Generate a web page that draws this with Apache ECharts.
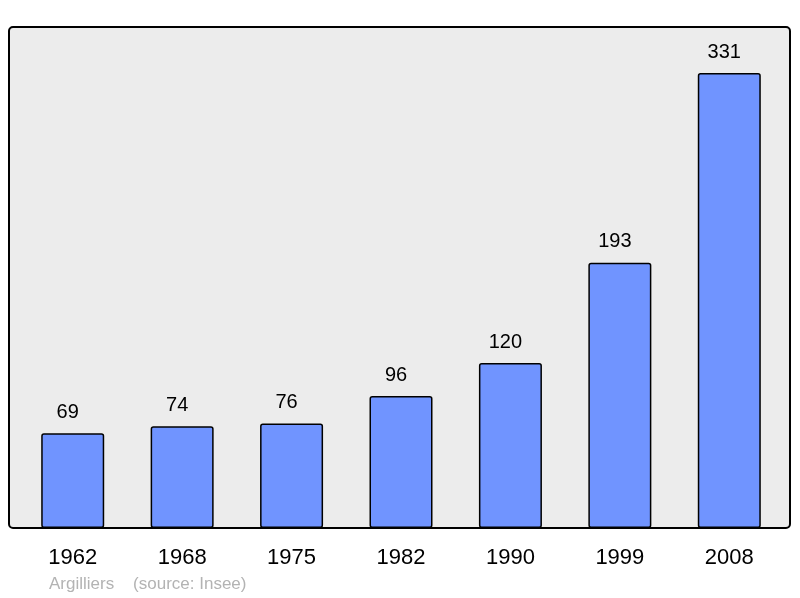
<!DOCTYPE html>
<html>
<head>
<meta charset="utf-8">
<script src="https://cdn.jsdelivr.net/npm/echarts@6/dist/echarts.min.js"></script>
<style>
    html, body { margin: 0; padding: 0; background: #fff; }
    #chart { width: 800px; height: 598px; }
</style>
</head>
<body>
<div id="chart"></div>
<script>
    // population by census year
    let years = ['1962', '1968', '1975', '1982', '1990', '1999', '2008'];
    let population = [69, 74, 76, 96, 120, 193, 331];
    let footer = 'Argilliers    (source: Insee)';

    let chart = echarts.init(document.getElementById('chart'));

    let opts = {
        animation: false,
        graphic: [
            {
                // plot frame
                type: 'rect',
                z: -1,
                shape: { x: 9, y: 27, width: 781, height: 501, r: 4 },
                style: { fill: '#ececec', stroke: '#000', lineWidth: 2 }
            },
            {
                type: 'text',
                left: 49,
                top: 576,
                style: {
                    text: footer,
                    fill: '#b3b3b3',
                    font: '17px "Liberation Sans", Arial, sans-serif'
                }
            }
        ],
        grid: {
            left: 18,
            right: 16,
            top: 27,
            bottom: 70
        },
        xAxis: {
            type: 'category',
            data: years,
            axisLine: { show: false },
            axisTick: { show: false },
            axisLabel: {
                color: '#000',
                fontSize: 22,
                margin: 19,
                fontFamily: 'Liberation Sans'
            }
        },
        yAxis: {
            type: 'value',
            min: 0,
            max: 364.5,
            show: false,
            splitLine: { show: false }
        },
        series: [
            {
                type: 'bar',
                data: population,
                barWidth: 63,
                itemStyle: {
                    color: '#7094ff',
                    borderColor: '#000',
                    borderWidth: 1.5,
                    borderRadius: 2
                },
                label: {
                    show: true,
                    position: 'top',
                    distance: 11,
                    offset: [-5, 0],
                    color: '#000',
                    fontSize: 20,
                    fontFamily: 'Liberation Sans'
                }
            }
        ]
    };

    chart.setOption(opts);
</script>
</body>
</html>
